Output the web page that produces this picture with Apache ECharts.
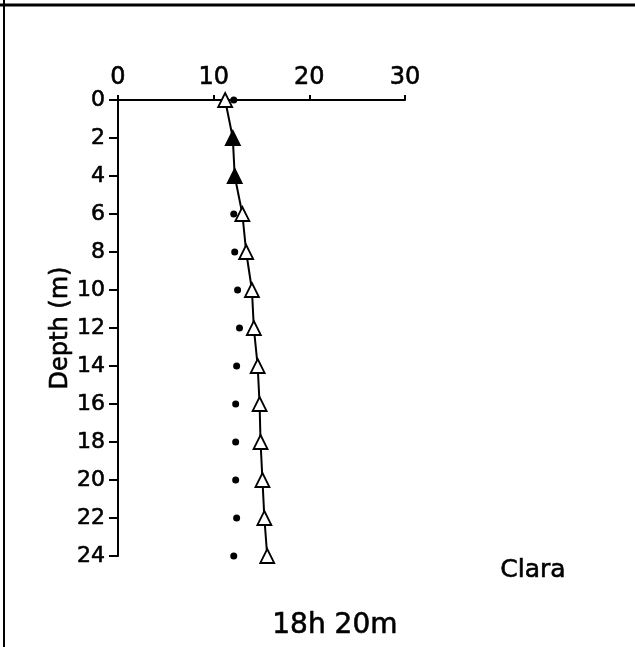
<!DOCTYPE html>
<html><head><meta charset="utf-8">
<script src="https://cdn.jsdelivr.net/npm/echarts@6/dist/echarts.min.js"></script>
<style>html,body{margin:0;padding:0;background:#fff}#c{width:635px;height:647px}</style>
</head><body><div id="c"></div>
<script>
const depths = [0, 2, 4, 6, 8, 10, 12, 14, 16, 18, 20, 22, 24];
const triangleValues = [11.2, 12.0, 12.2, 13.0, 13.4, 14.0, 14.2, 14.6, 14.8, 14.9, 15.1, 15.3, 15.6];
const dotValues = [12.1, 12.0, 12.2, 12.1, 12.2, 12.5, 12.7, 12.4, 12.3, 12.3, 12.3, 12.4, 12.1];
const xTicks = [0, 10, 20, 30];
const yTicks = depths;

const font = "DejaVu Sans";
const ink = '#000';
const chart = echarts.init(document.getElementById('c'));
const triData = depths.map((d, i) => [triangleValues[i], d]);
const dotData = depths.map((d, i) => [dotValues[i], d]);
const same = (i) => Math.abs(dotValues[i] - triangleValues[i]) < 0.05;
const thick = { textBorderColor: ink, textBorderWidth: 0.6 };

chart.setOption({
  animation: false,
  backgroundColor: '#fff',
  grid: { left: 118, top: 100, width: 287, height: 456, containLabel: false },
  xAxis: {
    type: 'value', position: 'top', min: xTicks[0], max: xTicks[xTicks.length - 1], interval: 10,
    axisLine: { show: true, onZero: false, lineStyle: { color: ink, width: 2 } },
    axisTick: { show: true, inside: false, length: 5, lineStyle: { color: ink, width: 2 } },
    axisLabel: Object.assign({ color: ink, fontFamily: font, fontSize: 24, margin: 10 }, thick),
    splitLine: { show: false }
  },
  yAxis: {
    type: 'value', inverse: true, min: 0, max: 24, interval: 2,
    name: 'Depth (m)', nameLocation: 'middle', nameGap: 43, nameRotate: 90,
    nameTextStyle: Object.assign({ color: ink, fontFamily: font, fontSize: 24 }, thick),
    axisLine: { show: true, onZero: false, lineStyle: { color: ink, width: 2 } },
    axisTick: { show: true, inside: false, length: 9, lineStyle: { color: ink, width: 2 } },
    axisLabel: Object.assign({ color: ink, fontFamily: font, fontSize: 22, margin: 13 }, thick),
    splitLine: { show: false }
  },
  series: [
    {
      type: 'line', data: triData, symbol: 'triangle', symbolSize: 14,
      lineStyle: { color: ink, width: 2 },
      itemStyle: { color: '#fff', borderColor: ink, borderWidth: 1.8, opacity: 1 },
      z: 3
    },
    {
      type: 'scatter',
      data: dotData.map((p, i) => same(i)
        ? { value: p, symbol: 'triangle', symbolSize: 14 }
        : { value: p, symbol: 'circle', symbolSize: 7 }),
      itemStyle: { color: ink, opacity: 1 },
      z: 4
    }
  ],
  graphic: [
    { type: 'line', shape: { x1: 0, y1: 5, x2: 635, y2: 5 }, style: { stroke: ink, lineWidth: 3 } },
    { type: 'line', shape: { x1: 4, y1: 0, x2: 4, y2: 647 }, style: { stroke: ink, lineWidth: 2 } },
    { type: 'text', left: 500, top: 558, style: { text: 'Clara', font: '25px "DejaVu Sans"', fill: ink, stroke: ink, lineWidth: 0.6 } },
    { type: 'text', left: 272, top: 611, style: { text: '18h 20m', font: '28px "DejaVu Sans"', fill: ink, stroke: ink, lineWidth: 0.6 } }
  ]
});
</script></body></html>
